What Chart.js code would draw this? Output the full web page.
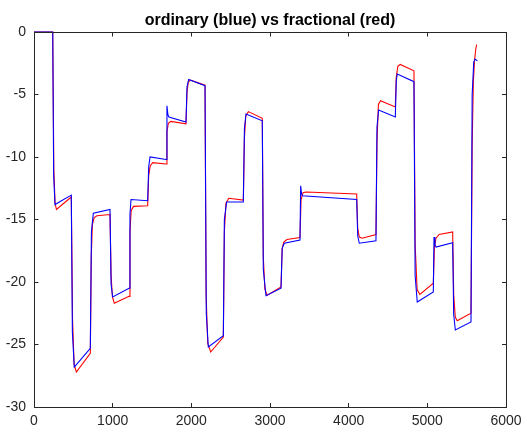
<!DOCTYPE html>
<html><head><meta charset="utf-8">
<script src="https://cdn.jsdelivr.net/npm/chart.js@4.4.1/dist/chart.umd.min.js"></script>
<style>html,body{margin:0;padding:0;background:#fff}canvas{display:block}</style>
</head><body>
<canvas id="c" width="527" height="435"></canvas>
<script>
const titleText = 'ordinary (blue) vs fractional (red)';
const xTickValues = [0, 1000, 2000, 3000, 4000, 5000, 6000];
const yTickValues = [-30, -25, -20, -15, -10, -5, 0];

const blueT = [0, 238, 250, 267, 474, 488, 512, 716, 730, 754, 966, 980, 1000, 1208, 1220, 1233, 1445, 1458, 1475, 1678,
  1690, 1702, 1715, 1932, 1945, 1966, 2174, 2190, 2216, 2407, 2420, 2449, 2661, 2675, 2695, 2902, 2915, 2949, 3140, 3155,
  3182, 3381, 3390, 3400, 3411, 4102, 4115, 4135, 4347, 4360, 4381, 4593, 4605, 4618, 4830, 4845, 4872, 5076, 5085, 5097,
  5110, 5322, 5335, 5356, 5555, 5570, 5590, 5606, 5636];
const blueV = [0, 0, -11.5, -13.8, -13.05, -24, -26.8, -25.3, -16, -14.5, -14.2, -20.2, -21.2, -20.5, -14.6, -13.4, -13.5, -10.8, -10.0, -10.2,
  -5.9, -6.6, -6.8, -7.2, -4.4, -3.8, -4.3, -22.5, -25.2, -24.3, -15, -13.6, -13.6, -7.7, -6.56, -7.1, -19, -21.1, -20.5, -17.3,
  -16.9, -16.64, -12.3, -12.9, -13.1, -13.4, -16.3, -16.9, -16.7, -7.6, -6.24, -6.8, -3.9, -3.36, -3.97, -19.5, -21.6, -20.8, -16.4, -17.0,
  -17.2, -16.85, -22.6, -23.84, -23.2, -5, -2.4, -2.16, -2.3];

const redT = [0, 238, 252, 268, 285, 474, 490, 510, 538, 716, 728, 742, 765, 800, 966, 980, 997, 1021, 1208, 1220,
  1235, 1265, 1445, 1458, 1478, 1510, 1678, 1690, 1708, 1740, 1932, 1945, 1962, 1990, 2174, 2188, 2208, 2246, 2407, 2420,
  2440, 2475, 2661, 2675, 2692, 2725, 2902, 2915, 2935, 2965, 3140, 3155, 3175, 3215, 3381, 3395, 3420, 3460, 4102, 4115,
  4135, 4170, 4347, 4360, 4378, 4405, 4593, 4605, 4625, 4655, 4830, 4845, 4870, 4905, 5076, 5090, 5110, 5150, 5322, 5335,
  5355, 5380, 5555, 5570, 5585, 5600, 5615, 5627];
const redV = [0, 0, -11, -13.7, -14.2, -13.2, -23, -26.6, -27.2, -25.7, -18, -15.4, -14.85, -14.7, -14.6, -19.5, -21.2, -21.7, -21.15, -16,
  -14.3, -13.95, -13.9, -11.5, -10.7, -10.45, -10.56, -8.0, -7.3, -7.15, -7.35, -4.8, -4.0, -3.85, -4.25, -21, -24.9, -25.6, -24.4, -16,
  -13.7, -13.3, -13.45, -8.5, -6.7, -6.37, -6.9, -18, -20.6, -21.05, -20.4, -17.3, -16.8, -16.6, -16.45, -13.4, -12.85, -12.8, -12.96, -15.7,
  -16.4, -16.5, -16.2, -8.8, -5.8, -5.5, -6.0, -3.6, -2.75, -2.6, -3.1, -17, -20.6, -21.0, -20.1, -17.2, -16.5, -16.2, -16.0, -21,
  -22.8, -23.1, -22.5, -9, -4, -2.3, -1.4, -1.0];

function pts(t, v) { return t.map((x, i) => ({ x: x, y: v[i] })); }

const AXC = '#262626';

function gridOpts() {
  return { display: true, drawOnChartArea: false, drawTicks: true, tickLength: -4, color: AXC };
}
function borderOpts() { return { display: true, color: AXC, width: 1 }; }

function al(p) { return Math.round(p - 0.5) + 0.5; }

const frameBackup = {
  id: 'frameBackup',
  afterDraw(chart) {
    const ctx = chart.ctx, a = chart.chartArea, sx = chart.scales.x, sy = chart.scales.y;
    if (!sx || !sy) return;
    ctx.save();
    ctx.strokeStyle = AXC; ctx.lineWidth = 1;
    ctx.beginPath();
    const L = al(a.left), R = al(a.right), T = al(a.top), B = al(a.bottom);
    ctx.moveTo(L, T); ctx.lineTo(R, T); ctx.lineTo(R, B); ctx.lineTo(L, B); ctx.closePath();
    xTickValues.forEach(v => { const p = al(sx.getPixelForValue(v)); ctx.moveTo(p, B); ctx.lineTo(p, B - 4); ctx.moveTo(p, T); ctx.lineTo(p, T + 4); });
    yTickValues.forEach(v => { const p = al(sy.getPixelForValue(v)); ctx.moveTo(L, p); ctx.lineTo(L + 4, p); ctx.moveTo(R, p); ctx.lineTo(R - 4, p); });
    ctx.stroke();
    ctx.restore();
  }
};

new Chart(document.getElementById('c'), {
  type: 'scatter',
  data: {
    datasets: [
      { data: pts(blueT, blueV), showLine: true, borderColor: '#0000ff', borderWidth: 1.1, pointRadius: 0, tension: 0, fill: false, clip: 3 },
      { data: pts(redT, redV), showLine: true, borderColor: '#ff0000', borderWidth: 1.1, pointRadius: 0, tension: 0, fill: false, clip: 3 }
    ]
  },
  options: {
    responsive: false,
    animation: false,
    devicePixelRatio: 1,
    layout: { padding: { left: 0, right: 21, top: 0, bottom: 0 } },
    plugins: {
      legend: { display: false },
      tooltip: { enabled: false },
      title: {
        display: true, text: titleText, fullSize: false, color: '#000',
        font: { size: 16, weight: 'bold' },
        padding: { top: 10.5, bottom: 2.3 }
      }
    },
    scales: {
      x: {
        type: 'linear', position: 'bottom', min: 0, max: 6000,
        afterBuildTicks: s => { s.ticks = xTickValues.map(v => ({ value: v })); },
        afterFit: s => { s.height = 28; s.paddingLeft = 0; s.paddingRight = 0; },
        grid: gridOpts(), border: borderOpts(),
        ticks: { color: AXC, padding: 10, font: { size: 14 }, callback: v => String(v) }
      },
      x2: {
        type: 'linear', position: 'top', min: 0, max: 6000,
        afterBuildTicks: s => { s.ticks = xTickValues.map(v => ({ value: v })); },
        afterFit: s => { s.height = 0; s.paddingLeft = 0; s.paddingRight = 0; },
        grid: gridOpts(), border: borderOpts(),
        ticks: { display: false }
      },
      y: {
        type: 'linear', position: 'left', min: -30, max: 0,
        afterBuildTicks: s => { s.ticks = yTickValues.map(v => ({ value: v })); },
        afterFit: s => { s.width = 34; },
        grid: gridOpts(), border: borderOpts(),
        ticks: { color: AXC, padding: 12, font: { size: 14 }, callback: v => String(v) }
      },
      y2: {
        type: 'linear', position: 'right', min: -30, max: 0,
        afterBuildTicks: s => { s.ticks = yTickValues.map(v => ({ value: v })); },
        afterFit: s => { s.width = 0; },
        grid: gridOpts(), border: borderOpts(),
        ticks: { display: false }
      }
    }
  },
  plugins: [frameBackup]
});
</script>
</body></html>
